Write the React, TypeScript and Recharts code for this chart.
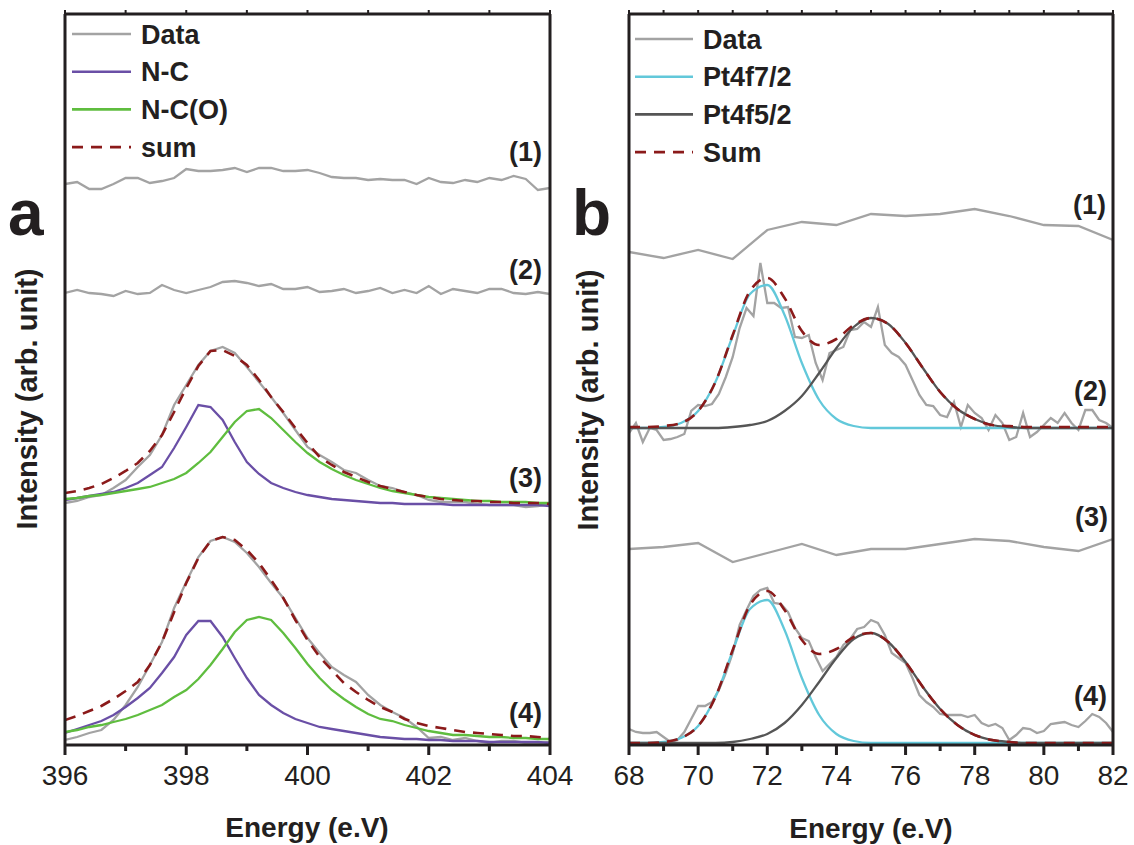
import { LineChart, Line, XAxis, YAxis, Legend, ReferenceLine } from 'recharts';

const FONT = '"Liberation Sans", Arial, Helvetica, sans-serif';
const INK = '#231f20';
const C_DATA = '#a3a3a3';
const C_NC = '#6a4fa6';
const C_NCO = '#5fbd3f';
const C_SUM = '#8b1a1a';
const C_PT7 = '#62c8da';
const C_PT5 = '#555555';
const SUM_DASH = '11 8';

// intensity axis (arb. unit), traces are stacked with offsets
const Y_TOP = 73.1;

// ---- panel a : N 1s ----
const nEnergy = [
  396, 396.2, 396.4, 396.6, 396.8, 397, 397.2, 397.4, 397.6, 397.8,
  398, 398.2, 398.4, 398.6, 398.8, 399, 399.2, 399.4, 399.6, 399.8,
  400, 400.2, 400.4, 400.6, 400.8, 401, 401.2, 401.4, 401.6, 401.8,
  402, 402.2, 402.4, 402.6, 402.8, 403, 403.2, 403.4, 403.6, 403.8, 404,
];
const nTicks = [396, 397, 398, 399, 400, 401, 402, 403, 404];

const nData1 = [
  56.1, 56.3, 55.6, 55.6, 56.1, 56.7, 56.7, 56.2, 56.4, 56.7,
  57.6, 57.4, 57.4, 57.5, 57.7, 57.3, 57.7, 57.7, 57.4, 57.4,
  57.5, 57.2, 56.8, 56.7, 56.7, 56.5, 56.6, 56.5, 56.5, 56.1,
  56.7, 56.3, 56.2, 56.5, 56.3, 56.7, 56.5, 56.9, 56.6, 55.5, 55.7,
];
const nData2 = [
  45.2, 45.5, 45.2, 45.1, 44.9, 45.4, 45.1, 45.2, 46.0, 45.5,
  45.2, 45.5, 45.8, 46.3, 46.4, 46.2, 45.9, 46.1, 45.6, 45.6,
  45.8, 45.3, 45.4, 45.6, 45.2, 45.4, 45.7, 45.2, 45.5, 45.2,
  45.9, 45.1, 45.6, 45.4, 45.2, 45.6, 45.6, 45.2, 45.1, 45.3, 45.1,
];
const nData3 = [
  24.2, 24.4, 24.8, 25.0, 25.7, 26.5, 27.8, 29.0, 31.0, 34.0,
  36.0, 38.0, 39.4, 39.8, 39.2, 37.8, 36.3, 34.8, 33.2, 31.5,
  29.8, 29.0, 28.3, 27.5, 27.2, 26.5, 25.9, 25.7, 25.3, 25.0,
  24.5, 24.3, 24.3, 24.3, 24.1, 24.0, 24.0, 24.0, 23.8, 23.9, 24.1,
];
const nNC3 = [
  24.5, 24.7, 24.9, 25.1, 25.3, 25.7, 26.2, 27.0, 27.8, 29.7,
  31.8, 34.0, 33.8, 32.5, 30.3, 28.3, 27.1, 26.2, 25.7, 25.3,
  25.0, 24.8, 24.6, 24.5, 24.4, 24.3, 24.2, 24.2, 24.1, 24.1,
  24.1, 24.1, 24.0, 24.0, 24.0, 24.0, 24.0, 24.0, 24.0, 24.0, 23.9,
];
const nNCO3 = [
  24.6, 24.7, 24.9, 25.0, 25.2, 25.4, 25.6, 25.8, 26.2, 26.6,
  27.2, 28.2, 29.3, 30.8, 32.3, 33.4, 33.6, 32.7, 31.5, 30.3,
  29.2, 28.3, 27.6, 27.0, 26.5, 26.1, 25.7, 25.4, 25.2, 25.0,
  24.8, 24.7, 24.6, 24.5, 24.4, 24.4, 24.3, 24.3, 24.3, 24.2, 24.2,
];
const nSum3 = [
  25.2, 25.4, 25.7, 26.1, 26.7, 27.4, 28.2, 29.4, 31.0, 33.3,
  35.7, 37.9, 39.4, 39.5, 38.9, 38.0, 36.5, 34.8, 33.3, 31.7,
  30.2, 28.8, 28.0, 27.3, 26.8, 26.3, 25.9, 25.6, 25.3, 25.0,
  24.8, 24.6, 24.5, 24.4, 24.4, 24.3, 24.3, 24.2, 24.2, 24.2, 24.1,
];
const nData4 = [
  0.5, 0.8, 1.2, 1.5, 2.5, 4.0, 5.8, 8.0, 10.3, 13.7,
  16.3, 18.8, 20.4, 20.8, 20.3, 19.2, 17.8, 16.2, 14.7, 12.7,
  10.7, 9.2, 7.8, 7.0, 6.3, 5.0, 4.0, 3.3, 2.7, 1.8,
  0.7, 0.8, 0.5, 0.7, 0.4, 0.2, 0.4, 0.4, 0.2, 0.2, 0.3,
];
const nNC4 = [
  1.2, 1.6, 2.0, 2.4, 3.0, 3.8, 4.7, 5.7, 7.2, 8.8,
  11.0, 12.4, 12.4, 10.8, 8.7, 6.7, 5.0, 4.0, 3.2, 2.6,
  2.2, 1.8, 1.6, 1.4, 1.2, 1.0, 0.8, 0.7, 0.6, 0.6,
  0.5, 0.5, 0.4, 0.4, 0.4, 0.3, 0.3, 0.3, 0.3, 0.3, 0.2,
];
const nNCO4 = [
  1.3, 1.5, 1.8, 2.0, 2.3, 2.6, 3.0, 3.5, 4.0, 4.8,
  5.5, 6.6, 8.0, 9.6, 11.3, 12.5, 12.8, 12.5, 11.2, 9.7,
  8.1, 6.7, 5.5, 4.6, 3.8, 3.1, 2.6, 2.4, 2.0, 1.7,
  1.4, 1.2, 1.0, 1.0, 0.9, 0.8, 0.8, 0.7, 0.7, 0.6, 0.6,
];
const nSum4 = [
  2.5, 2.9, 3.4, 3.9, 4.6, 5.4, 6.3, 8.0, 10.3, 13.3,
  16.2, 18.7, 20.4, 20.8, 20.5, 19.5, 18.2, 16.5, 14.7, 12.5,
  10.5, 8.8, 7.5, 6.2, 5.3, 4.5, 3.8, 3.3, 2.6, 2.2,
  1.9, 1.7, 1.5, 1.3, 1.2, 1.1, 1.0, 0.9, 0.9, 0.8, 0.7,
];

// ---- panel b : Pt 4f ----
const ptEnergy = [
  68, 68.2, 68.4, 68.6, 68.8, 69, 69.2, 69.4, 69.6, 69.8,
  70, 70.2, 70.4, 70.6, 70.8, 71, 71.2, 71.4, 71.6, 71.8,
  72, 72.2, 72.4, 72.6, 72.8, 73, 73.2, 73.4, 73.6, 73.8,
  74, 74.2, 74.4, 74.6, 74.8, 75, 75.2, 75.4, 75.6, 75.8,
  76, 76.2, 76.4, 76.6, 76.8, 77, 77.2, 77.4, 77.6, 77.8,
  78, 78.2, 78.4, 78.6, 78.8, 79, 79.2, 79.4, 79.6, 79.8,
  80, 80.2, 80.4, 80.6, 80.8, 81, 81.2, 81.4, 81.6, 81.8, 82,
];
const ptFitEnergy = [
  68, 68.5, 69, 69.5, 70, 70.5, 71, 71.5, 72, 72.5,
  73, 73.5, 74, 74.5, 75, 75.5, 76, 76.5, 77, 77.5,
  78, 78.5, 79, 79.5, 80, 80.5, 81, 81.5, 82,
];
const ptSurveyEnergy = [68, 69, 70, 71, 72, 73, 74, 75, 76, 77, 78, 79, 80, 81, 82];
const ptTicks = [68, 69, 70, 71, 72, 73, 74, 75, 76, 77, 78, 79, 80, 81, 82];

const ptData1 = [49.3, 48.7, 49.5, 48.6, 51.5, 52.3, 52.0, 53.1, 52.9, 53.1, 53.6, 52.9, 52.0, 51.9, 50.5];
const ptData3 = [19.6, 19.8, 20.2, 18.3, 19.2, 20.1, 19.0, 19.6, 19.6, 20.1, 20.6, 20.4, 19.8, 19.4, 20.6];

const ptData2 = [
  31.2, 32.2, 30.3, 31.7, 31.5, 30.5, 30.6, 30.8, 31.1, 33.4,
  34.0, 33.9, 34.1, 35.1, 36.8, 38.8, 41.7, 43.7, 42.9, 48.2,
  44.2, 44.2, 43.7, 43.8, 40.8, 40.7, 41.0, 38.2, 36.5, 39.2,
  39.5, 39.8, 41.5, 41.6, 42.3, 41.8, 43.8, 40.0, 39.2, 38.8,
  38.0, 36.5, 35.0, 34.0, 33.9, 33.0, 32.8, 34.3, 31.8, 34.0,
  33.2, 32.7, 31.5, 33.0, 32.2, 30.5, 30.8, 33.2, 30.8, 31.3,
  32.0, 32.7, 32.2, 33.2, 32.2, 31.5, 33.5, 33.5, 32.5, 32.2, 31.7,
];
const ptF72_2 = [
  31.7, 31.7, 31.8, 32.2, 33.4, 36.3, 40.9, 45.1, 46.0, 43.0,
  38.2, 34.5, 32.6, 31.9, 31.7, 31.7, 31.7, 31.7, 31.7, 31.7,
  31.7, 31.7, 31.7, 31.7, 31.7, 31.7, 31.7, 31.7, 31.7,
];
const ptF52_2 = [
  31.7, 31.7, 31.7, 31.7, 31.7, 31.7, 31.8, 32.0, 32.4, 33.4,
  34.9, 37.2, 39.7, 41.8, 42.7, 42.1, 40.2, 37.7, 35.3, 33.6,
  32.6, 32.0, 31.8, 31.7, 31.7, 31.7, 31.7, 31.7, 31.7,
];
const ptSum2 = [
  31.8, 31.8, 31.9, 32.2, 33.4, 36.3, 41.0, 45.4, 46.7, 44.7,
  41.4, 40.0, 40.6, 42.0, 42.7, 42.1, 40.2, 37.7, 35.3, 33.6,
  32.6, 32.0, 31.9, 31.8, 31.8, 31.8, 31.8, 31.8, 31.8,
];

const ptData4 = [
  1.6, 1.3, 1.2, 1.2, 1.3, 0.8, 0.3, 0.5, 1.3, 2.6,
  3.9, 3.9, 4.3, 5.5, 7.2, 9.2, 12.0, 13.5, 14.9, 15.5,
  15.7, 14.2, 14.1, 13.3, 11.7, 10.7, 10.4, 8.8, 7.4, 8.1,
  8.8, 10.0, 10.6, 11.6, 11.8, 12.5, 12.2, 11.0, 9.2, 8.7,
  8.2, 6.7, 5.0, 4.3, 3.8, 3.1, 3.0, 3.0, 3.0, 2.8,
  3.0, 2.2, 1.9, 2.1, 1.7, 0.5, 1.0, 1.7, 1.6, 1.2,
  1.4, 2.1, 2.2, 2.3, 2.0, 1.8, 2.4, 3.1, 2.8, 2.2, 1.3,
];
const ptF72_4 = [
  0.2, 0.2, 0.3, 0.7, 1.9, 4.8, 9.4, 13.6, 14.5, 11.5,
  6.7, 3.0, 1.1, 0.4, 0.2, 0.2, 0.2, 0.2, 0.2, 0.2,
  0.2, 0.2, 0.2, 0.2, 0.2, 0.2, 0.2, 0.2, 0.2,
];
const ptF52_4 = [
  0.2, 0.2, 0.2, 0.2, 0.2, 0.2, 0.3, 0.6, 1.1, 2.2,
  4.0, 6.3, 8.7, 10.6, 11.2, 10.3, 8.3, 5.8, 3.6, 2.0,
  1.0, 0.5, 0.3, 0.2, 0.2, 0.2, 0.2, 0.2, 0.2,
];
const ptSum4 = [
  0.2, 0.2, 0.3, 0.7, 1.9, 4.8, 9.5, 14.0, 15.4, 13.5,
  10.5, 9.1, 9.6, 10.8, 11.2, 10.3, 8.3, 5.8, 3.6, 2.0,
  1.0, 0.5, 0.3, 0.2, 0.2, 0.2, 0.2, 0.2, 0.2,
];

type Trace = {
  id: string;
  name: string;
  xs: number[];
  ys: number[];
  color: string;
  dash?: string;
  curve?: 'linear' | 'monotone';
  legend?: boolean;
  width?: number;
};

const rows = (xs: number[], ys: number[]) => xs.map((e, i) => ({ e, v: ys[i] }));

const nTraces: Trace[] = [
  { id: 'd1', name: 'Data', xs: nEnergy, ys: nData1, color: C_DATA },
  { id: 'd2', name: 'Data', xs: nEnergy, ys: nData2, color: C_DATA },
  { id: 'd3', name: 'Data', xs: nEnergy, ys: nData3, color: C_DATA, legend: true },
  { id: 'nc3', name: 'N-C', xs: nEnergy, ys: nNC3, color: C_NC, legend: true },
  { id: 'nco3', name: 'N-C(O)', xs: nEnergy, ys: nNCO3, color: C_NCO, legend: true },
  { id: 's3', name: 'sum', xs: nEnergy, ys: nSum3, color: C_SUM, dash: SUM_DASH, legend: true, width: 2.6 },
  { id: 'd4', name: 'Data', xs: nEnergy, ys: nData4, color: C_DATA },
  { id: 'nc4', name: 'N-C', xs: nEnergy, ys: nNC4, color: C_NC },
  { id: 'nco4', name: 'N-C(O)', xs: nEnergy, ys: nNCO4, color: C_NCO },
  { id: 's4', name: 'sum', xs: nEnergy, ys: nSum4, color: C_SUM, dash: SUM_DASH, width: 2.6 },
];

const ptTraces: Trace[] = [
  { id: 'd1', name: 'Data', xs: ptSurveyEnergy, ys: ptData1, color: C_DATA },
  { id: 'd2', name: 'Data', xs: ptEnergy, ys: ptData2, color: C_DATA, legend: true },
  { id: 'p7a', name: 'Pt4f7/2', xs: ptFitEnergy, ys: ptF72_2, color: C_PT7, curve: 'monotone', legend: true },
  { id: 'p5a', name: 'Pt4f5/2', xs: ptFitEnergy, ys: ptF52_2, color: C_PT5, curve: 'monotone', legend: true },
  { id: 's2', name: 'Sum', xs: ptFitEnergy, ys: ptSum2, color: C_SUM, dash: SUM_DASH, curve: 'monotone', legend: true, width: 2.6 },
  { id: 'd3', name: 'Data', xs: ptSurveyEnergy, ys: ptData3, color: C_DATA },
  { id: 'd4', name: 'Data', xs: ptEnergy, ys: ptData4, color: C_DATA },
  { id: 'p7b', name: 'Pt4f7/2', xs: ptFitEnergy, ys: ptF72_4, color: C_PT7, curve: 'monotone' },
  { id: 'p5b', name: 'Pt4f5/2', xs: ptFitEnergy, ys: ptF52_4, color: C_PT5, curve: 'monotone' },
  { id: 's4', name: 'Sum', xs: ptFitEnergy, ys: ptSum4, color: C_SUM, dash: SUM_DASH, curve: 'monotone', width: 2.6 },
];

// page geometry of the two plot frames (shared by the charts and the tick overlay)
const PLOT_TOP = 14;
const PLOT_BOTTOM = 745;
const frameA = { left: 65, right: 550, domain: [396, 404] as [number, number], ticks: nTicks };
const frameB = { left: 629, right: 1113, domain: [68, 82] as [number, number], ticks: ptTicks };

// labels only on the even energies
function BottomTick(props: any) {
  const { x, y, payload } = props;
  if (payload.value % 2 !== 0) return <g />;
  return (
    <text x={x} y={y + 40} textAnchor="middle" fontSize={28} fill={INK} fontFamily={FONT}>
      {payload.value}
    </text>
  );
}

function LegendBox(props: any) {
  const { payload, order, x1, x2, textX, firstY } = props;
  const items = order
    .map((name: string) => (payload || []).find((p: any) => p.value === name))
    .filter(Boolean);
  return (
    <svg width={300} height={175} style={{ display: 'block' }}>
      {items.map((it: any, i: number) => {
        const y = firstY + i * 37.7;
        return (
          <g key={it.value}>
            <line x1={x1} x2={x2} y1={y} y2={y} stroke={it.color} strokeWidth={2.6}
              strokeDasharray={it.payload?.strokeDasharray} />
            <text x={textX} y={y + 9.5} fontSize={27} fontWeight="bold" fill={INK} fontFamily={FONT}>
              {it.value}
            </text>
          </g>
        );
      })}
    </svg>
  );
}

type PanelProps = {
  left: number;
  width: number;
  frame: typeof frameA;
  traces: Trace[];
  legendOrder: string[];
  legendX1: number;
  legendX2: number;
  legendTextX: number;
  legendY: number;
};

function Panel(p: PanelProps) {
  const [x0, x1] = p.frame.domain;
  const ref = { xAxisId: 'b', yAxisId: 'l', stroke: INK, strokeWidth: 3, ifOverflow: 'visible' as const };
  return (
    <div style={{ position: 'absolute', left: p.left, top: 0 }}>
      <LineChart width={p.width} height={845}
        margin={{ top: PLOT_TOP, right: p.left + p.width - p.frame.right, bottom: 0, left: p.frame.left - p.left }}>
        <XAxis xAxisId="b" type="number" dataKey="e" domain={p.frame.domain} ticks={p.frame.ticks} interval={0}
          allowDataOverflow height={845 - PLOT_BOTTOM} tickSize={0} tickMargin={0} tickLine={false}
          tick={<BottomTick />} axisLine={false} />
        <YAxis yAxisId="l" type="number" domain={[0, Y_TOP]} width={0} tick={false} tickLine={false}
          axisLine={false} allowDataOverflow />
        {p.traces.map((t) => (
          <Line key={t.id} xAxisId="b" yAxisId="l" data={rows(t.xs, t.ys)} dataKey="v" name={t.name}
            type={t.curve ?? 'linear'} stroke={t.color} strokeWidth={t.width ?? 2.3}
            strokeDasharray={t.dash} dot={false} activeDot={false} isAnimationActive={false}
            legendType={t.legend ? 'line' : 'none'} />
        ))}
        {/* plot frame */}
        <ReferenceLine {...ref} segment={[{ x: x0, y: 0 }, { x: x0, y: Y_TOP }]} />
        <ReferenceLine {...ref} segment={[{ x: x1, y: 0 }, { x: x1, y: Y_TOP }]} />
        <ReferenceLine {...ref} segment={[{ x: x0, y: 0 }, { x: x1, y: 0 }]} />
        <ReferenceLine {...ref} segment={[{ x: x0, y: Y_TOP }, { x: x1, y: Y_TOP }]} />
        <Legend layout="vertical" align="center" verticalAlign="middle"
          wrapperStyle={{ left: 0, top: 0, width: 300, height: 175 }}
          content={(lp: any) => (
            <LegendBox {...lp} order={p.legendOrder} x1={p.legendX1} x2={p.legendX2}
              textX={p.legendTextX} firstY={p.legendY} />
          )} />
      </LineChart>
    </div>
  );
}

// outward tick marks: long at labelled energies, short in between; tiny ones on the top edge
function TickMarks({ f }: { f: typeof frameA }) {
  const [d0, d1] = f.domain;
  const px = (v: number) => f.left + ((v - d0) / (d1 - d0)) * (f.right - f.left);
  return (
    <g>
      {f.ticks.map((v) => (
        <g key={v}>
          <rect x={px(v) - 1.5} y={PLOT_BOTTOM} width={3} height={v % 2 === 0 ? 10 : 6} fill={INK} />
          <rect x={px(v) - 1} y={PLOT_TOP - 4} width={2} height={4} fill={INK} />
        </g>
      ))}
    </g>
  );
}

const traceLabelsA = [
  { text: '(1)', x: 542, y: 161 },
  { text: '(2)', x: 542, y: 279 },
  { text: '(3)', x: 542, y: 487 },
  { text: '(4)', x: 542, y: 722 },
];
const traceLabelsB = [
  { text: '(1)', x: 1106, y: 214 },
  { text: '(2)', x: 1107, y: 400 },
  { text: '(3)', x: 1108, y: 526 },
  { text: '(4)', x: 1107, y: 705 },
];

export default function App() {
  const bold = { fontFamily: FONT, fontWeight: 'bold' as const, fill: INK };
  return (
    <div style={{ position: 'absolute', left: 0, top: 0, width: 1134, height: 845, background: '#fff', overflow: 'hidden' }}>
      <Panel left={0} width={585} frame={frameA}
        traces={nTraces} legendOrder={['Data', 'N-C', 'N-C(O)', 'sum']}
        legendX1={72} legendX2={131} legendTextX={141} legendY={34} />
      <Panel left={564} width={570} frame={frameB}
        traces={ptTraces} legendOrder={['Data', 'Pt4f7/2', 'Pt4f5/2', 'Sum']}
        legendX1={71} legendX2={129} legendTextX={139} legendY={39} />
      <svg width={1134} height={845} style={{ position: 'absolute', left: 0, top: 0, pointerEvents: 'none' }}>
        <TickMarks f={frameA} />
        <TickMarks f={frameB} />
        <text x={8} y={235} fontSize={64} {...bold}>a</text>
        <text x={572} y={235} fontSize={64} {...bold}>b</text>
        <text transform="translate(37,399) rotate(-90)" textAnchor="middle" fontSize={29} {...bold}>
          Intensity (arb. unit)
        </text>
        <text transform="translate(598,400) rotate(-90)" textAnchor="middle" fontSize={29} {...bold}>
          Intensity (arb. unit)
        </text>
        <text x={307} y={837} textAnchor="middle" fontSize={28} {...bold}>Energy (e.V)</text>
        <text x={871} y={838} textAnchor="middle" fontSize={28} {...bold}>Energy (e.V)</text>
        {traceLabelsA.concat(traceLabelsB).map((l, i) => (
          <text key={i} x={l.x} y={l.y} textAnchor="end" fontSize={27} {...bold}>{l.text}</text>
        ))}
      </svg>
    </div>
  );
}
